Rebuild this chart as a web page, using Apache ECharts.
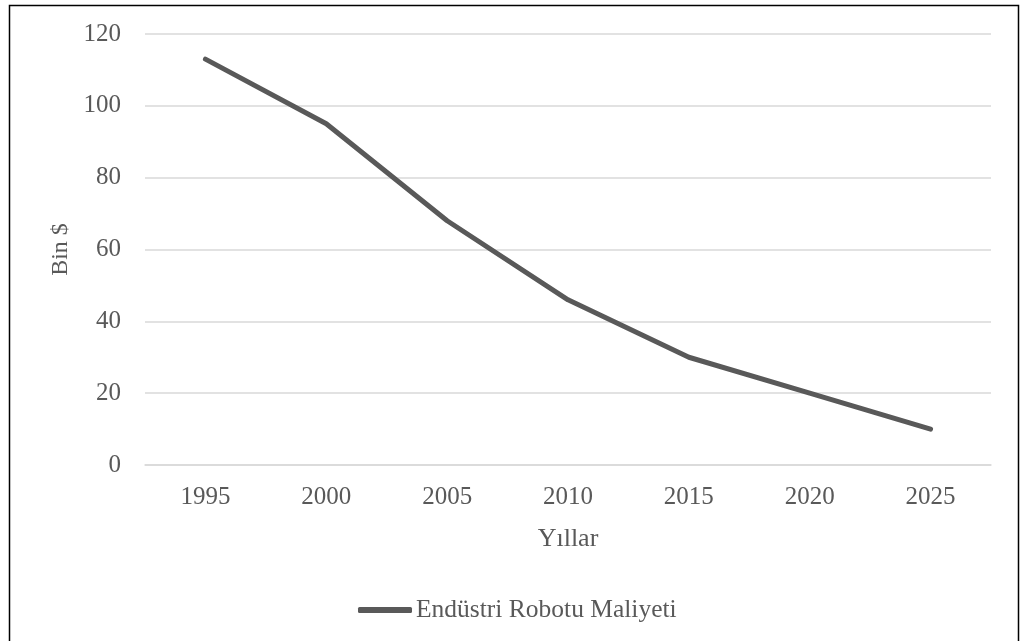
<!DOCTYPE html>
<html>
<head>
<meta charset="utf-8">
<script src="https://cdn.jsdelivr.net/npm/echarts@6/dist/echarts.min.js"></script>
<style>
  html, body { margin: 0; padding: 0; background: #fff; }
  #chart { width: 1020px; height: 641px; }
</style>
</head>
<body>
<div id="chart"></div>
<script>
// Industrial robot cost over time (thousand $)
const years = ['1995', '2000', '2005', '2010', '2015', '2020', '2025'];
const robotCost = [113, 95, 68, 46, 30, 20, 10];
const seriesName = 'Endüstri Robotu Maliyeti';
const xTitle = 'Yıllar';
const yTitle = 'Bin $';

const textColor = '#595959';
const font = '"Liberation Serif", "Times New Roman", serif';

const chart = echarts.init(document.getElementById('chart'));
chart.setOption({
  animation: false,
  backgroundColor: '#fff',
  textStyle: { fontFamily: font },
  graphic: [{
    type: 'rect',
    shape: { x: 9.5, y: 5.5, width: 1009, height: 640 },
    style: { fill: 'none', stroke: '#000', lineWidth: 1.5 },
    silent: true
  }],
  grid: { left: 145, right: 29, top: 34, bottom: 176 },
  legend: {
    data: [seriesName],
    left: 353,
    top: 592,
    icon: 'roundRect',
    itemWidth: 54,
    itemHeight: 6,
    itemGap: 10,
    textStyle: { fontFamily: font, fontSize: 25.5, color: textColor, padding: [0, 0, 0, -1] }
  },
  xAxis: {
    type: 'category',
    data: years,
    boundaryGap: true,
    name: xTitle,
    nameLocation: 'middle',
    nameGap: 61,
    nameTextStyle: { fontFamily: font, fontSize: 26, color: textColor },
    axisLine: { show: true, lineStyle: { color: '#d9d9d9', width: 1.5 } },
    axisTick: { show: false },
    axisLabel: { fontFamily: font, fontSize: 25, color: textColor, margin: 20 }
  },
  yAxis: {
    type: 'value',
    min: 0,
    max: 120,
    interval: 20,
    name: yTitle,
    nameLocation: 'middle',
    nameGap: 69,
    nameRotate: 90,
    nameTextStyle: { fontFamily: font, fontSize: 24, color: textColor },
    axisLine: { show: false },
    axisTick: { show: false },
    axisLabel: { fontFamily: font, fontSize: 25, color: textColor, margin: 24 },
    splitLine: { lineStyle: { color: '#d9d9d9', width: 1.5 } }
  },
  series: [{
    name: seriesName,
    type: 'line',
    data: robotCost,
    symbol: 'none',
    lineStyle: { color: '#595959', width: 5, cap: 'round', join: 'round' },
    itemStyle: { color: '#595959' }
  }]
});
</script>
</body>
</html>
